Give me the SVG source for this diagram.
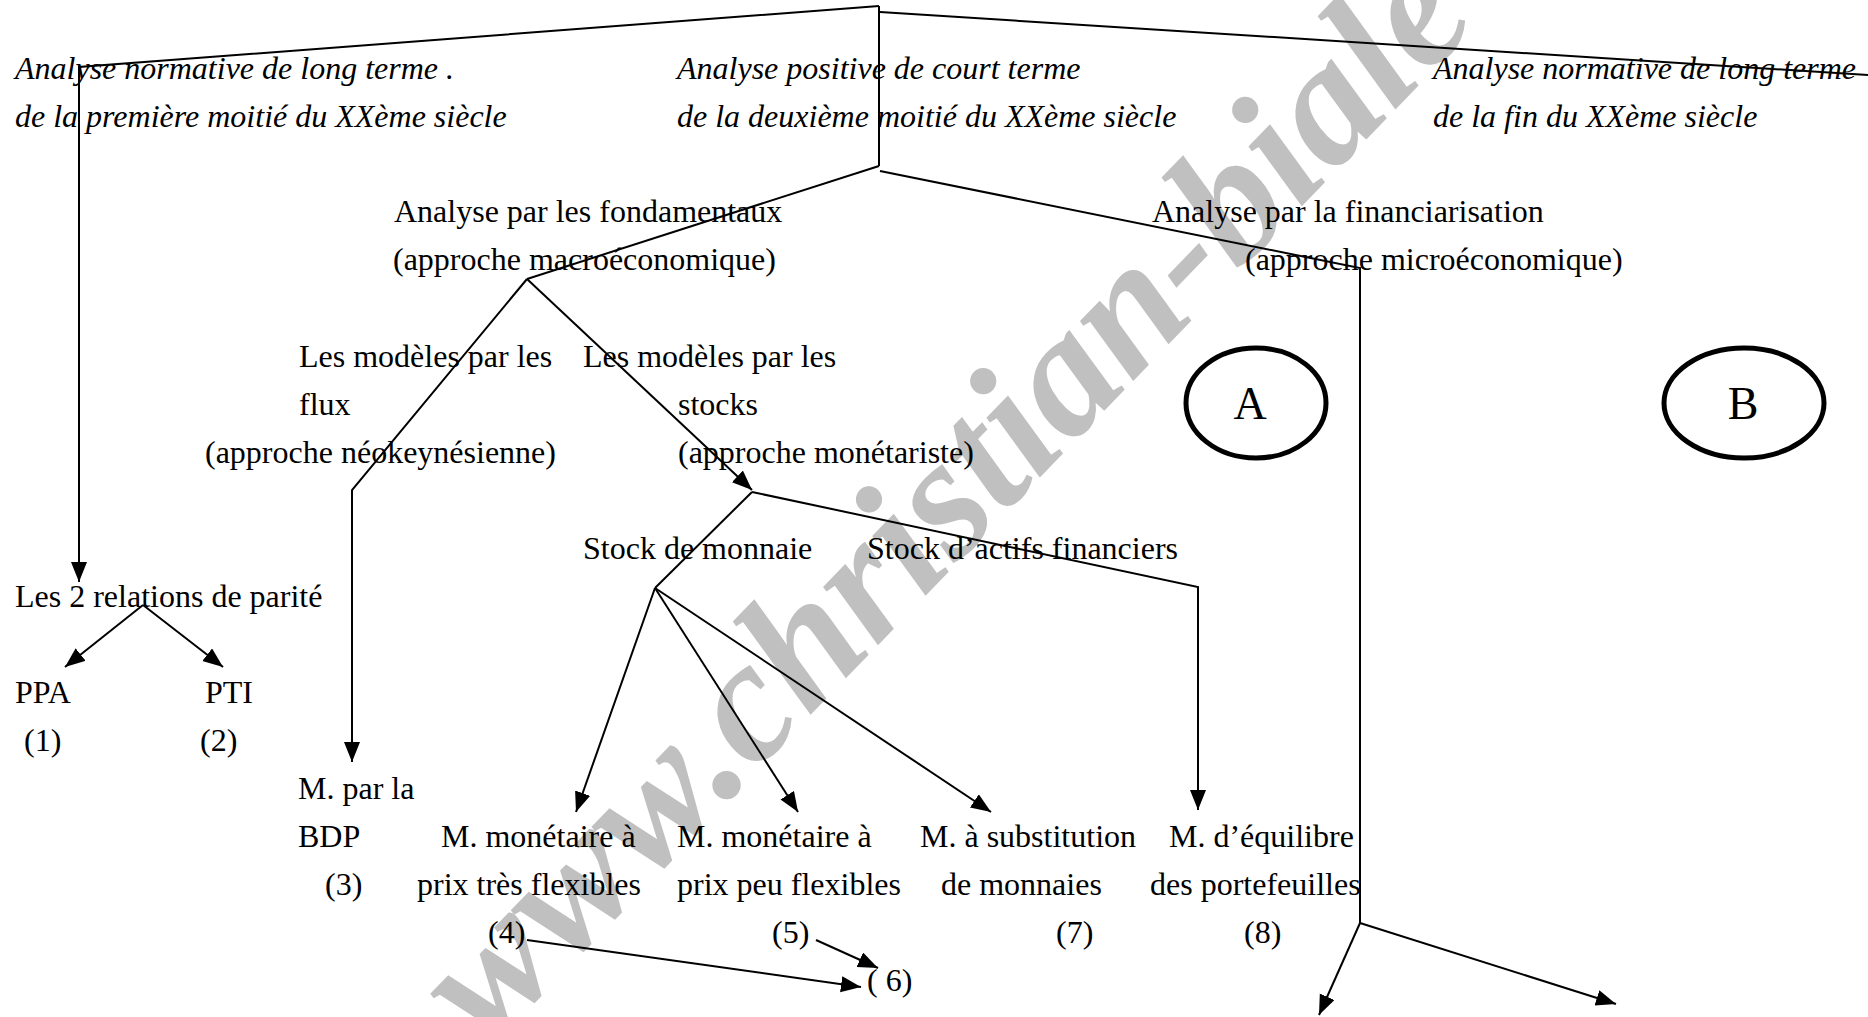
<svg xmlns="http://www.w3.org/2000/svg" width="1868" height="1017" viewBox="0 0 1868 1017">
<style>
.it{font-family:"Liberation Serif",serif;font-style:italic;font-size:32px;fill:#000}
.rm{font-family:"Liberation Serif",serif;font-size:32px;fill:#000}
.big{font-family:"Liberation Serif",serif;font-size:46px;fill:#000;text-anchor:middle}
.wm{font-family:"Liberation Serif",serif;font-style:italic;font-weight:bold;font-size:174px;fill:#c0c0c0}
.ln{stroke:#000;stroke-width:2;fill:none}
.ar{stroke:#000;stroke-width:2;fill:none;marker-end:url(#ah)}
.circ{stroke:#000;stroke-width:5;fill:none}
</style>
<defs>
<marker id="ah" markerUnits="userSpaceOnUse" markerWidth="22" markerHeight="18" refX="20" refY="8" orient="auto">
<path d="M0,0 L20,8 L0,16 z" fill="#000"/>
</marker>
</defs>
<rect width="1868" height="1017" fill="#fff"/>
<g id="watermark">
<text class="wm" transform="translate(487,1050) rotate(-46)">www.christian-biale</text>
</g>
<g id="connectors">
<path class="ar" d="M879,6 L79,67 L79,582"/>
<path class="ln" d="M880,12 L1868,75"/>
<path class="ln" d="M879,6 L879,166"/>
<path class="ln" d="M879,166 L527,279"/>
<path class="ar" d="M527,279 L352,490 L352,762"/>
<path class="ar" d="M527,279 L752,490"/>
<path class="ln" d="M880,171 L1360,268 L1360,923"/>
<path class="ar" d="M1360,923 L1319,1015"/>
<path class="ar" d="M1360,923 L1616,1004"/>
<path class="ln" d="M752,492 L655,588"/>
<path class="ar" d="M655,588 L576,812"/>
<path class="ar" d="M655,588 L798,812"/>
<path class="ar" d="M655,588 L991,812"/>
<path class="ar" d="M752,492 L1198,587 L1198,810"/>
<path class="ar" d="M143,605 L65,667"/>
<path class="ar" d="M143,605 L223,667"/>
<path class="ar" d="M527,940 L861,987"/>
<path class="ar" d="M816,940 L878,968"/>
</g>
<g id="n-normative-1">
<text class="it" x="15" y="79">Analyse normative de long terme .</text>
<text class="it" x="15" y="127">de la première moitié du XXème siècle</text>
</g>
<g id="n-positive">
<text class="it" x="677" y="79">Analyse positive de court terme</text>
<text class="it" x="677" y="127">de la deuxième moitié du XXème siècle</text>
</g>
<g id="n-normative-2">
<text class="it" x="1433" y="79">Analyse normative de long terme</text>
<text class="it" x="1433" y="127">de la fin du XXème siècle</text>
</g>
<g id="n-fondamentaux">
<text class="rm" x="394" y="222">Analyse par les fondamentaux</text>
<text class="rm" x="393" y="270">(approche macroéconomique)</text>
</g>
<g id="n-financiarisation">
<text class="rm" x="1152" y="222">Analyse par la financiarisation</text>
<text class="rm" x="1245" y="270">(approche microéconomique)</text>
</g>
<g id="n-flux">
<text class="rm" x="299" y="367">Les modèles par les</text>
<text class="rm" x="299" y="415">flux</text>
<text class="rm" x="205" y="463">(approche néokeynésienne)</text>
</g>
<g id="n-stocks">
<text class="rm" x="583" y="367">Les modèles par les</text>
<text class="rm" x="678" y="415">stocks</text>
<text class="rm" x="678" y="463">(approche monétariste)</text>
</g>
<g id="n-A">
<ellipse class="circ" cx="1256" cy="403" rx="70" ry="55"/>
<text class="big" x="1250" y="419">A</text>
</g>
<g id="n-B">
<ellipse class="circ" cx="1744" cy="403" rx="80" ry="55"/>
<text class="big" x="1743" y="419">B</text>
</g>
<g id="n-stock-monnaie">
<text class="rm" x="583" y="559">Stock de monnaie</text>
</g>
<g id="n-stock-actifs">
<text class="rm" x="867" y="559">Stock d’actifs financiers</text>
</g>
<g id="n-parite">
<text class="rm" x="15" y="607">Les 2 relations de parité</text>
</g>
<g id="n-ppa">
<text class="rm" x="15" y="703">PPA</text>
<text class="rm" x="24" y="751">(1)</text>
</g>
<g id="n-pti">
<text class="rm" x="205" y="703">PTI</text>
<text class="rm" x="200" y="751">(2)</text>
</g>
<g id="n-bdp">
<text class="rm" x="298" y="799">M. par la</text>
<text class="rm" x="298" y="847">BDP</text>
<text class="rm" x="325" y="895">(3)</text>
</g>
<g id="n-tres-flexibles">
<text class="rm" x="441" y="847">M. monétaire à</text>
<text class="rm" x="417" y="895">prix très flexibles</text>
<text class="rm" x="488" y="943">(4)</text>
</g>
<g id="n-peu-flexibles">
<text class="rm" x="677" y="847">M. monétaire à</text>
<text class="rm" x="677" y="895">prix peu flexibles</text>
<text class="rm" x="772" y="943">(5)</text>
</g>
<g id="n-substitution">
<text class="rm" x="920" y="847">M. à substitution</text>
<text class="rm" x="941" y="895">de monnaies</text>
<text class="rm" x="1056" y="943">(7)</text>
</g>
<g id="n-portefeuilles">
<text class="rm" x="1169" y="847">M. d’équilibre</text>
<text class="rm" x="1150" y="895">des portefeuilles</text>
<text class="rm" x="1244" y="943">(8)</text>
</g>
<g id="n-6">
<text class="rm" x="867" y="991">( 6)</text>
</g>
</svg>
